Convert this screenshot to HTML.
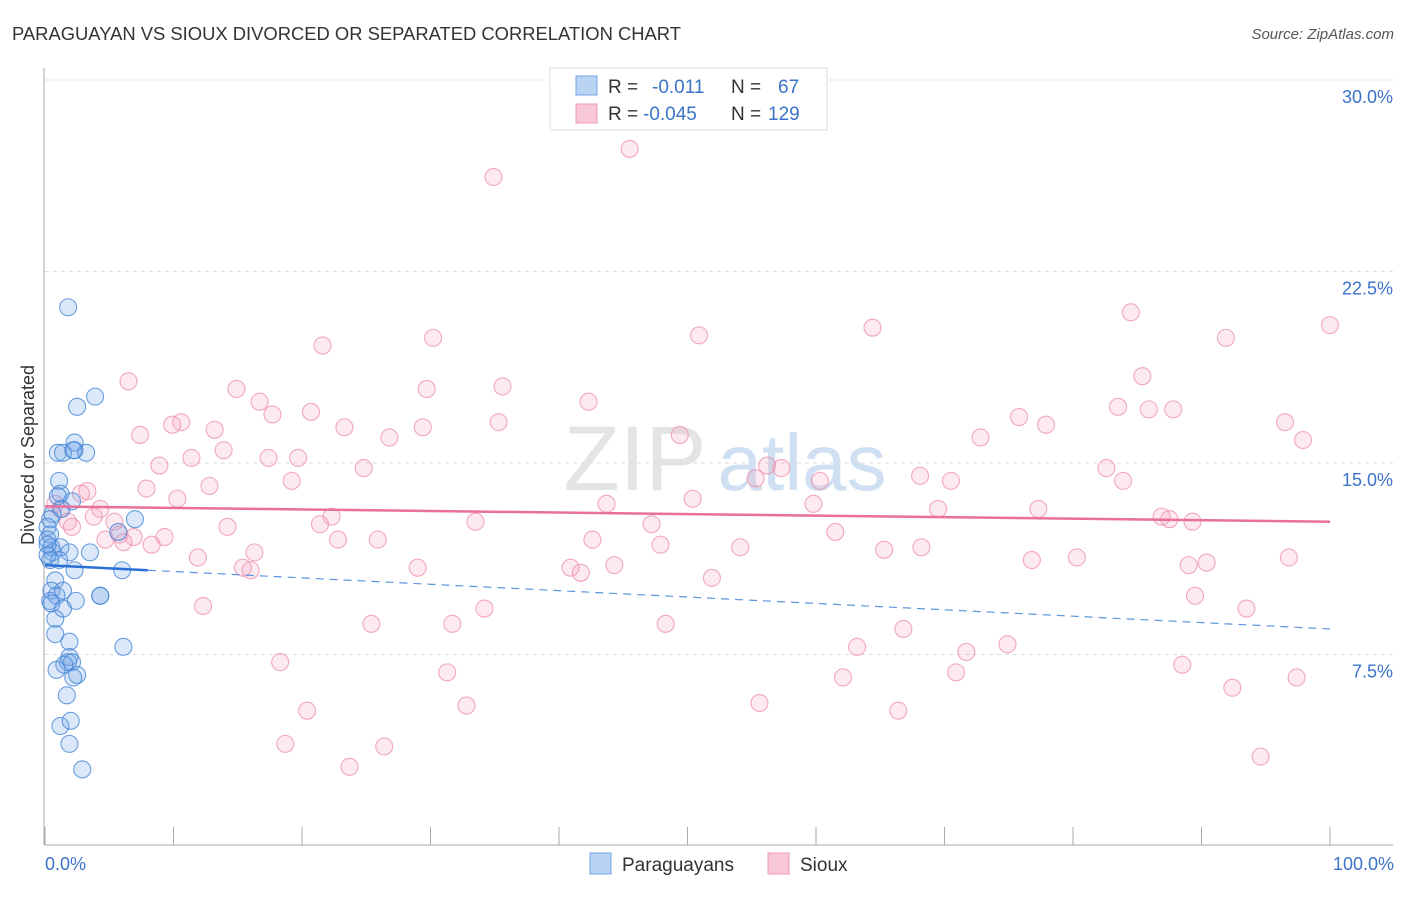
<!DOCTYPE html>
<html><head><meta charset="utf-8"><style>
body{margin:0;background:#fff;font-family:"Liberation Sans",sans-serif;}
svg text{font-family:"Liberation Sans",sans-serif;}
</style></head><body>
<svg id="chart" width="1406" height="892" viewBox="0 0 1406 892">
<text x="12" y="40" font-size="18.4" fill="#333">PARAGUAYAN VS SIOUX DIVORCED OR SEPARATED CORRELATION CHART</text>
<text x="1394" y="39" font-size="15" fill="#555" text-anchor="end" font-style="italic">Source: ZipAtlas.com</text>
<g>
<text x="635" y="490" font-size="92" fill="#e4e4e4" font-family="Liberation Serif" text-anchor="middle">ZIP</text>
<text x="802" y="490" font-size="80" fill="#cfe0f3" text-anchor="middle">atlas</text>
</g>
<g id="grid"></g>
<g id="axes"></g>
<g id="marks"></g>
<text transform="translate(34,455) rotate(-90)" font-size="18" fill="#333" text-anchor="middle">Divorced or Separated</text>
<text x="45" y="870" font-size="18" fill="#3b73c9">0.0%</text>
<text x="1394" y="870" font-size="18" fill="#3b73c9" text-anchor="end">100.0%</text>
<g>
<rect x="550" y="68" width="277" height="62" fill="#fff" stroke="#ddd"/>
<rect x="576" y="76" width="21" height="19" fill="#b9d3f3" stroke="#6fa4e6"/>
<rect x="576" y="104" width="21" height="19" fill="#f9c8d7" stroke="#ee9ab4"/>
<text x="608" y="93" font-size="19" fill="#333">R = </text><text x="652" y="93" font-size="19" fill="#3b73c9">-0.011</text>
<text x="731" y="93" font-size="19" fill="#333">N = </text><text x="778" y="93" font-size="19" fill="#3b73c9">67</text>
<text x="608" y="120" font-size="19" fill="#333">R = </text><text x="643" y="120" font-size="19" fill="#3b73c9">-0.045</text>
<text x="731" y="120" font-size="19" fill="#333">N = </text><text x="768" y="120" font-size="19" fill="#3b73c9">129</text>
</g>
<g>
<rect x="590" y="853" width="21" height="21" fill="#b9d3f3" stroke="#6fa4e6"/>
<text x="622" y="871" font-size="19" fill="#333">Paraguayans</text>
<rect x="768" y="853" width="21" height="21" fill="#f9c8d7" stroke="#ee9ab4"/>
<text x="800" y="871" font-size="19" fill="#333">Sioux</text>
</g>
</svg>
<script>
const yTicks=[7.5,15,22.5,30];
const yTickLabels=["7.5%","15.0%","22.5%","30.0%"];
const xTicks=[0,10,20,30,40,50,60,70,80,90,100];
const pinkX=[45.5,34.9,84.5,100,64.4,50.9,91.9,30.2,21.6,85.4,6.5,35.6,29.7,14.9,16.7,42.3,83.5,85.9,87.8,17.7,20.7,75.8,10.6,9.9,96.5,35.3,77.9,23.3,13.2,29.4,7.4,26.8,49.4,72.8,97.9,13.9,11.4,17.4,19.7,8.9,24.8,56.2,57.3,82.6,68.1,83.9,55.3,19.2,60.3,70.5,12.8,7.9,3.3,2.8,10.3,50.4,43.7,59.8,4.3,69.5,77.3,0.8,1.2,22.3,3.8,86.9,87.5,89.3,33.5,47.2,21.4,5.4,1.8,14.2,2.1,5.8,61.5,9.3,6.9,4.7,6.1,22.8,25.9,42.6,8.3,47.9,54.1,68.2,65.3,16.3,11.9,80.3,96.8,76.8,90.4,29.0,40.9,44.3,89.0,15.4,16.0,41.7,51.9,89.5,12.3,34.2,93.5,25.4,31.7,48.3,66.8,63.2,74.9,71.7,18.3,88.5,31.3,70.9,62.1,97.4,92.4,32.8,55.6,20.4,66.4,18.7,26.4,23.7,94.6];
const pinkY=[27.3,26.2,20.9,20.4,20.3,20.0,19.9,19.9,19.6,18.4,18.2,18.0,17.9,17.9,17.4,17.4,17.2,17.1,17.1,16.9,17.0,16.8,16.6,16.5,16.6,16.6,16.5,16.4,16.3,16.4,16.1,16.0,16.1,16.0,15.9,15.5,15.2,15.2,15.2,14.9,14.8,14.9,14.8,14.8,14.5,14.3,14.4,14.3,14.3,14.3,14.1,14.0,13.9,13.8,13.6,13.6,13.4,13.4,13.2,13.2,13.2,13.4,13.2,12.9,12.9,12.9,12.8,12.7,12.7,12.6,12.6,12.7,12.7,12.5,12.5,12.2,12.3,12.1,12.1,12.0,11.9,12.0,12.0,12.0,11.8,11.8,11.7,11.7,11.6,11.5,11.3,11.3,11.3,11.2,11.1,10.9,10.9,11.0,11.0,10.9,10.8,10.7,10.5,9.8,9.4,9.3,9.3,8.7,8.7,8.7,8.5,7.8,7.9,7.6,7.2,7.1,6.8,6.8,6.6,6.6,6.2,5.5,5.6,5.3,5.3,4.0,3.9,3.1,3.5];
const blueX=[1.8,3.9,2.5,2.3,2.3,1.0,1.4,3.2,2.2,1.1,1.2,1.0,2.1,1.3,0.6,0.4,0.2,0.4,0.2,0.5,0.6,0.4,7.0,5.7,1.2,1.9,1.1,3.5,2.3,6.0,4.3,4.3,0.8,0.5,0.9,0.4,0.5,1.4,1.4,2.4,0.8,0.8,6.1,1.9,1.9,1.8,2.1,1.5,0.9,2.5,2.2,1.7,1.2,2.0,1.9,2.9,0.2,0.2];
const blueY=[21.1,17.6,17.2,15.8,15.5,15.4,15.4,15.4,15.5,14.3,13.8,13.7,13.5,13.2,13.0,12.8,12.5,12.2,12.0,11.7,11.5,11.2,12.8,12.3,11.7,11.5,11.2,11.5,10.8,10.8,9.8,9.8,10.4,10.0,9.8,9.6,9.5,10.0,9.3,9.6,8.9,8.3,7.8,8.0,7.4,7.2,7.2,7.1,6.9,6.7,6.6,5.9,4.7,4.9,4.0,3.0,11.4,11.8];
const pinkTrend=[13.3,12.7];
const blueTrend=[11.0,8.5];
const blueSolidEnd=8;
const X0=45,X1=1330,Y0=846,Y30=80;
const sx=v=>X0+(X1-X0)*v/100;
const sy=v=>Y0-(Y0-Y30)*v/30;
const NS="http://www.w3.org/2000/svg";
function mk(tag,attrs,parent){const e=document.createElementNS(NS,tag);for(const k in attrs)e.setAttribute(k,attrs[k]);parent.appendChild(e);return e;}
const grid=document.getElementById('grid'),axes=document.getElementById('axes'),marks=document.getElementById('marks');
yTicks.forEach((t,i)=>{
const l=mk('line',{x1:45,x2:1393,y1:sy(t),y2:sy(t),stroke:'#ddd','stroke-dasharray':'4,4'},grid);


const tx=mk('text',{x:1393,y:sy(t)+23,'font-size':18,fill:'#3b73c9','text-anchor':'end'},grid);
tx.textContent=yTickLabels[i];


});
const ax=mk('line',{x1:45,x2:1393,y1:845,y2:845,stroke:'#aaa'},axes);


const ay=mk('line',{x1:44,x2:44,y1:68,y2:845,stroke:'#aaa'},axes);


xTicks.forEach(t=>{
const l=mk('line',{x1:sx(t),x2:sx(t),y1:827,y2:845,stroke:'#aaa'},axes);


});
pinkX.forEach((x,i)=>{
const c=mk('circle',{cx:sx(x),cy:sy(pinkY[i]),r:8.5,fill:'rgba(244,160,188,0.22)',stroke:'rgba(236,140,172,0.75)','stroke-width':1.1},marks);


});
blueX.forEach((x,i)=>{
const c=mk('circle',{cx:sx(x),cy:sy(blueY[i]),r:8.5,fill:'rgba(110,165,230,0.25)',stroke:'rgba(70,135,215,0.8)','stroke-width':1.1},marks);


});
const pt=mk('line',{x1:sx(0),x2:sx(100),y1:sy(pinkTrend[0]),y2:sy(pinkTrend[1]),stroke:'#e8709a','stroke-width':2.5},marks);


const bAt=v=>blueTrend[0]+(blueTrend[1]-blueTrend[0])*v/100;
const bs=mk('line',{x1:sx(0),x2:sx(blueSolidEnd),y1:sy(bAt(0)),y2:sy(bAt(blueSolidEnd)),stroke:'#2a6fd6','stroke-width':2.5},marks);


const bd=mk('line',{x1:sx(blueSolidEnd),x2:sx(100),y1:sy(bAt(blueSolidEnd)),y2:sy(bAt(100)),stroke:'#5b95dd','stroke-width':1.2,'stroke-dasharray':'8,6'},marks);


</script>
</body></html>
